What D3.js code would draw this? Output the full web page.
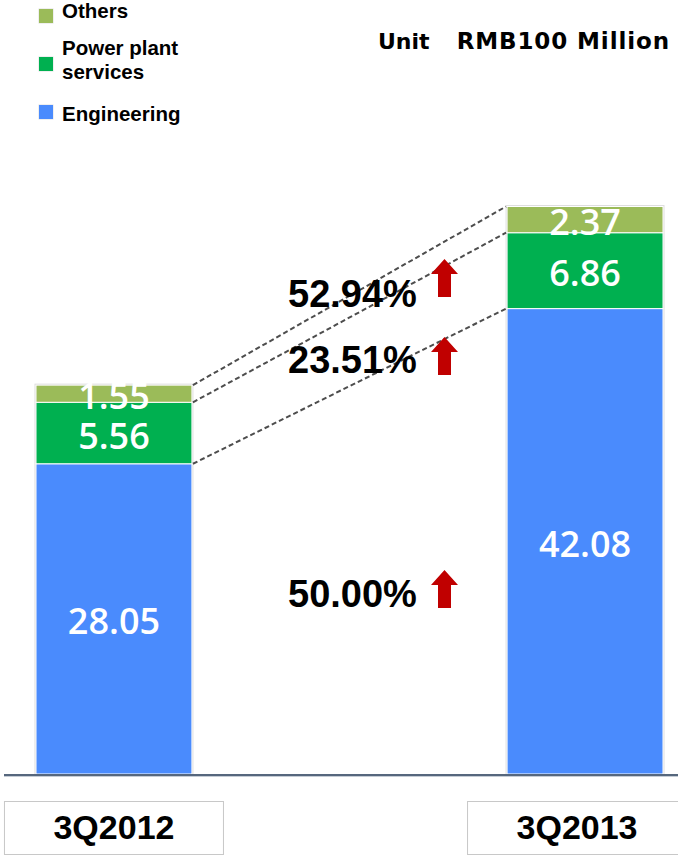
<!DOCTYPE html>
<html>
<head>
<meta charset="utf-8">
<script src="https://cdn.jsdelivr.net/npm/d3@7"></script>
<style>
  html, body { margin: 0; padding: 0; background: #fff; }
  svg { display: block; }
</style>
</head>
<body>
<svg id="chart" width="678" height="856"></svg>
<script>
// ---- data ----
const categories = ["3Q2012", "3Q2013"];
const engineering = [28.05, 42.08];
const powerPlant = [5.56, 6.86];
const others = [1.55, 2.37];
const seriesKeys = ["engineering", "powerPlant", "others"];
const seriesNames = ["Engineering", "Power plant services", "Others"];
const seriesColors = ["#4a8bfd", "#00b050", "#9bbb59"];
const growthLabels = ["50.00%", "23.51%", "52.94%"];
const unitLabel = ["Unit", "RMB100 Million"];

// ---- layout ----
const W = 678, H = 856;
const baseY = 774;
const svg = d3.select("#chart");

const rows = categories.map((c, i) => ({
  cat: c, engineering: engineering[i], powerPlant: powerPlant[i], others: others[i]
}));
const stacked = d3.stack().keys(seriesKeys)(rows);

const x = d3.scaleBand().domain(categories).range([36, 663]).paddingInner(0.669).paddingOuter(0);
const y = d3.scaleLinear().domain([0, 60]).range([baseY, baseY - 60 * 11.06]);
const color = d3.scaleOrdinal().domain(seriesKeys).range(seriesColors);

// bar shadow / border
svg.append("g").selectAll("rect").data(rows).join("rect")
  .attr("x", d => x(d.cat) - 1.5)
  .attr("width", x.bandwidth() + 3)
  .attr("y", d => y(d.engineering + d.powerPlant + d.others) - 1.5)
  .attr("height", d => baseY - y(d.engineering + d.powerPlant + d.others) + 1.5)
  .attr("fill", "#dedede");

// stacked segments
const segG = svg.append("g");
stacked.forEach(s => {
  segG.selectAll(null).data(s).join("rect")
    .attr("x", d => x(d.data.cat))
    .attr("width", x.bandwidth())
    .attr("y", d => y(d[1]))
    .attr("height", d => y(d[0]) - y(d[1]))
    .attr("fill", color(s.key))
    .attr("stroke", "#ffffff")
    .attr("stroke-width", 1);
});

// baseline
svg.append("line").attr("x1", 4).attr("x2", W).attr("y1", baseY + 1).attr("y2", baseY + 1)
  .attr("stroke", "#56677d").attr("stroke-width", 2);
svg.append("line").attr("x1", 4).attr("x2", W).attr("y1", baseY + 2.5).attr("y2", baseY + 2.5)
  .attr("stroke", "#c5ccd5").attr("stroke-width", 1);

// dashed connectors
const c0 = categories[0], c1 = categories[1];
stacked.forEach(s => {
  svg.append("line")
    .attr("x1", x(c0) + x.bandwidth() + 1)
    .attr("y1", y(s[0][1]))
    .attr("x2", x(c1) - 1)
    .attr("y2", y(s[1][1]))
    .attr("stroke", "#4d4d4d")
    .attr("stroke-width", 2)
    .attr("stroke-dasharray", "5,3");
});

// value labels
const labG = svg.append("g");
stacked.forEach(s => {
  labG.selectAll(null).data(s).join("text")
    .attr("x", d => x(d.data.cat) + x.bandwidth() / 2)
    .attr("y", d => (y(d[0]) + y(d[1])) / 2 + 15.5)
    .attr("text-anchor", "middle")
    .attr("font-family", "'Open Sans', 'Noto Sans', sans-serif")
    .attr("font-size", 36)
    .attr("font-weight", 600)
    .attr("fill", "#ffffff")
    .text(d => (d[1] - d[0]).toFixed(2));
});

// growth annotations
const growthBaseline = [607, 373, 307];
const arrowTop = [570, 337, 259];
const annG = svg.append("g");
growthLabels.forEach((g, i) => {
  annG.append("text")
    .attr("x", 288).attr("y", growthBaseline[i])
    .attr("font-family", "'Liberation Sans', Arial, sans-serif")
    .attr("font-weight", "bold").attr("font-size", 38)
    .attr("fill", "#000").text(g);
  const ax = 431, ay = arrowTop[i], aw = 27, ah = 38, hh = 15, sw = 13;
  const path = `M${ax + aw / 2},${ay} L${ax + aw},${ay + hh} L${ax + aw / 2 + sw / 2},${ay + hh} L${ax + aw / 2 + sw / 2},${ay + ah} L${ax + aw / 2 - sw / 2},${ay + ah} L${ax + aw / 2 - sw / 2},${ay + hh} L${ax},${ay + hh} Z`;
  annG.append("path").attr("d", path).attr("fill", "#c00000");
});

// legend (top to bottom: Others, Power plant services, Engineering)
const legendItems = [
  { key: "others", lines: ["Others"], sqY: 9, base: 18 },
  { key: "powerPlant", lines: ["Power plant", "services"], sqY: 57, base: 55 },
  { key: "engineering", lines: ["Engineering"], sqY: 105, base: 121 }
];
const legG = svg.append("g");
legendItems.forEach(it => {
  legG.append("rect").attr("x", 38.5).attr("y", it.sqY - 0.5).attr("width", 15).attr("height", 15)
    .attr("fill", "#e0e0e0");
  legG.append("rect").attr("x", 39).attr("y", it.sqY).attr("width", 14).attr("height", 14)
    .attr("fill", color(it.key));
  const t = legG.append("text").attr("x", 62).attr("y", it.base)
    .attr("font-family", "'Liberation Sans', Arial, sans-serif")
    .attr("font-weight", "bold").attr("font-size", 20.5).attr("fill", "#000");
  it.lines.forEach((l, j) => {
    t.append("tspan").attr("x", 62).attr("dy", j === 0 ? 0 : 24).text(l);
  });
});

// unit label
svg.append("text").attr("x", 378).attr("y", 49)
  .attr("font-family", "'DejaVu Sans', Verdana, sans-serif")
  .attr("font-weight", "bold").attr("font-size", 22).attr("fill", "#000")
  .text(unitLabel[0]);
svg.append("text").attr("x", 670).attr("y", 49).attr("text-anchor", "end")
  .attr("font-family", "'DejaVu Sans', Verdana, sans-serif")
  .attr("font-weight", "bold").attr("font-size", 23).attr("letter-spacing", 0.9).attr("fill", "#000")
  .text(unitLabel[1]);

// category boxes
const boxOffset = [0, -8];
const catG = svg.append("g");
categories.forEach((c, i) => {
  const cx = x(c) + x.bandwidth() / 2 + boxOffset[i];
  catG.append("rect").attr("x", cx - 109.5).attr("y", 801.5).attr("width", 219).attr("height", 53)
    .attr("fill", "#fff").attr("stroke", "#c8c8c8").attr("stroke-width", 1);
  catG.append("text").attr("x", cx).attr("y", 839).attr("text-anchor", "middle")
    .attr("font-family", "'Liberation Sans', Arial, sans-serif")
    .attr("font-weight", "bold").attr("font-size", 34).attr("fill", "#000")
    .text(c);
});
</script>
</body>
</html>
